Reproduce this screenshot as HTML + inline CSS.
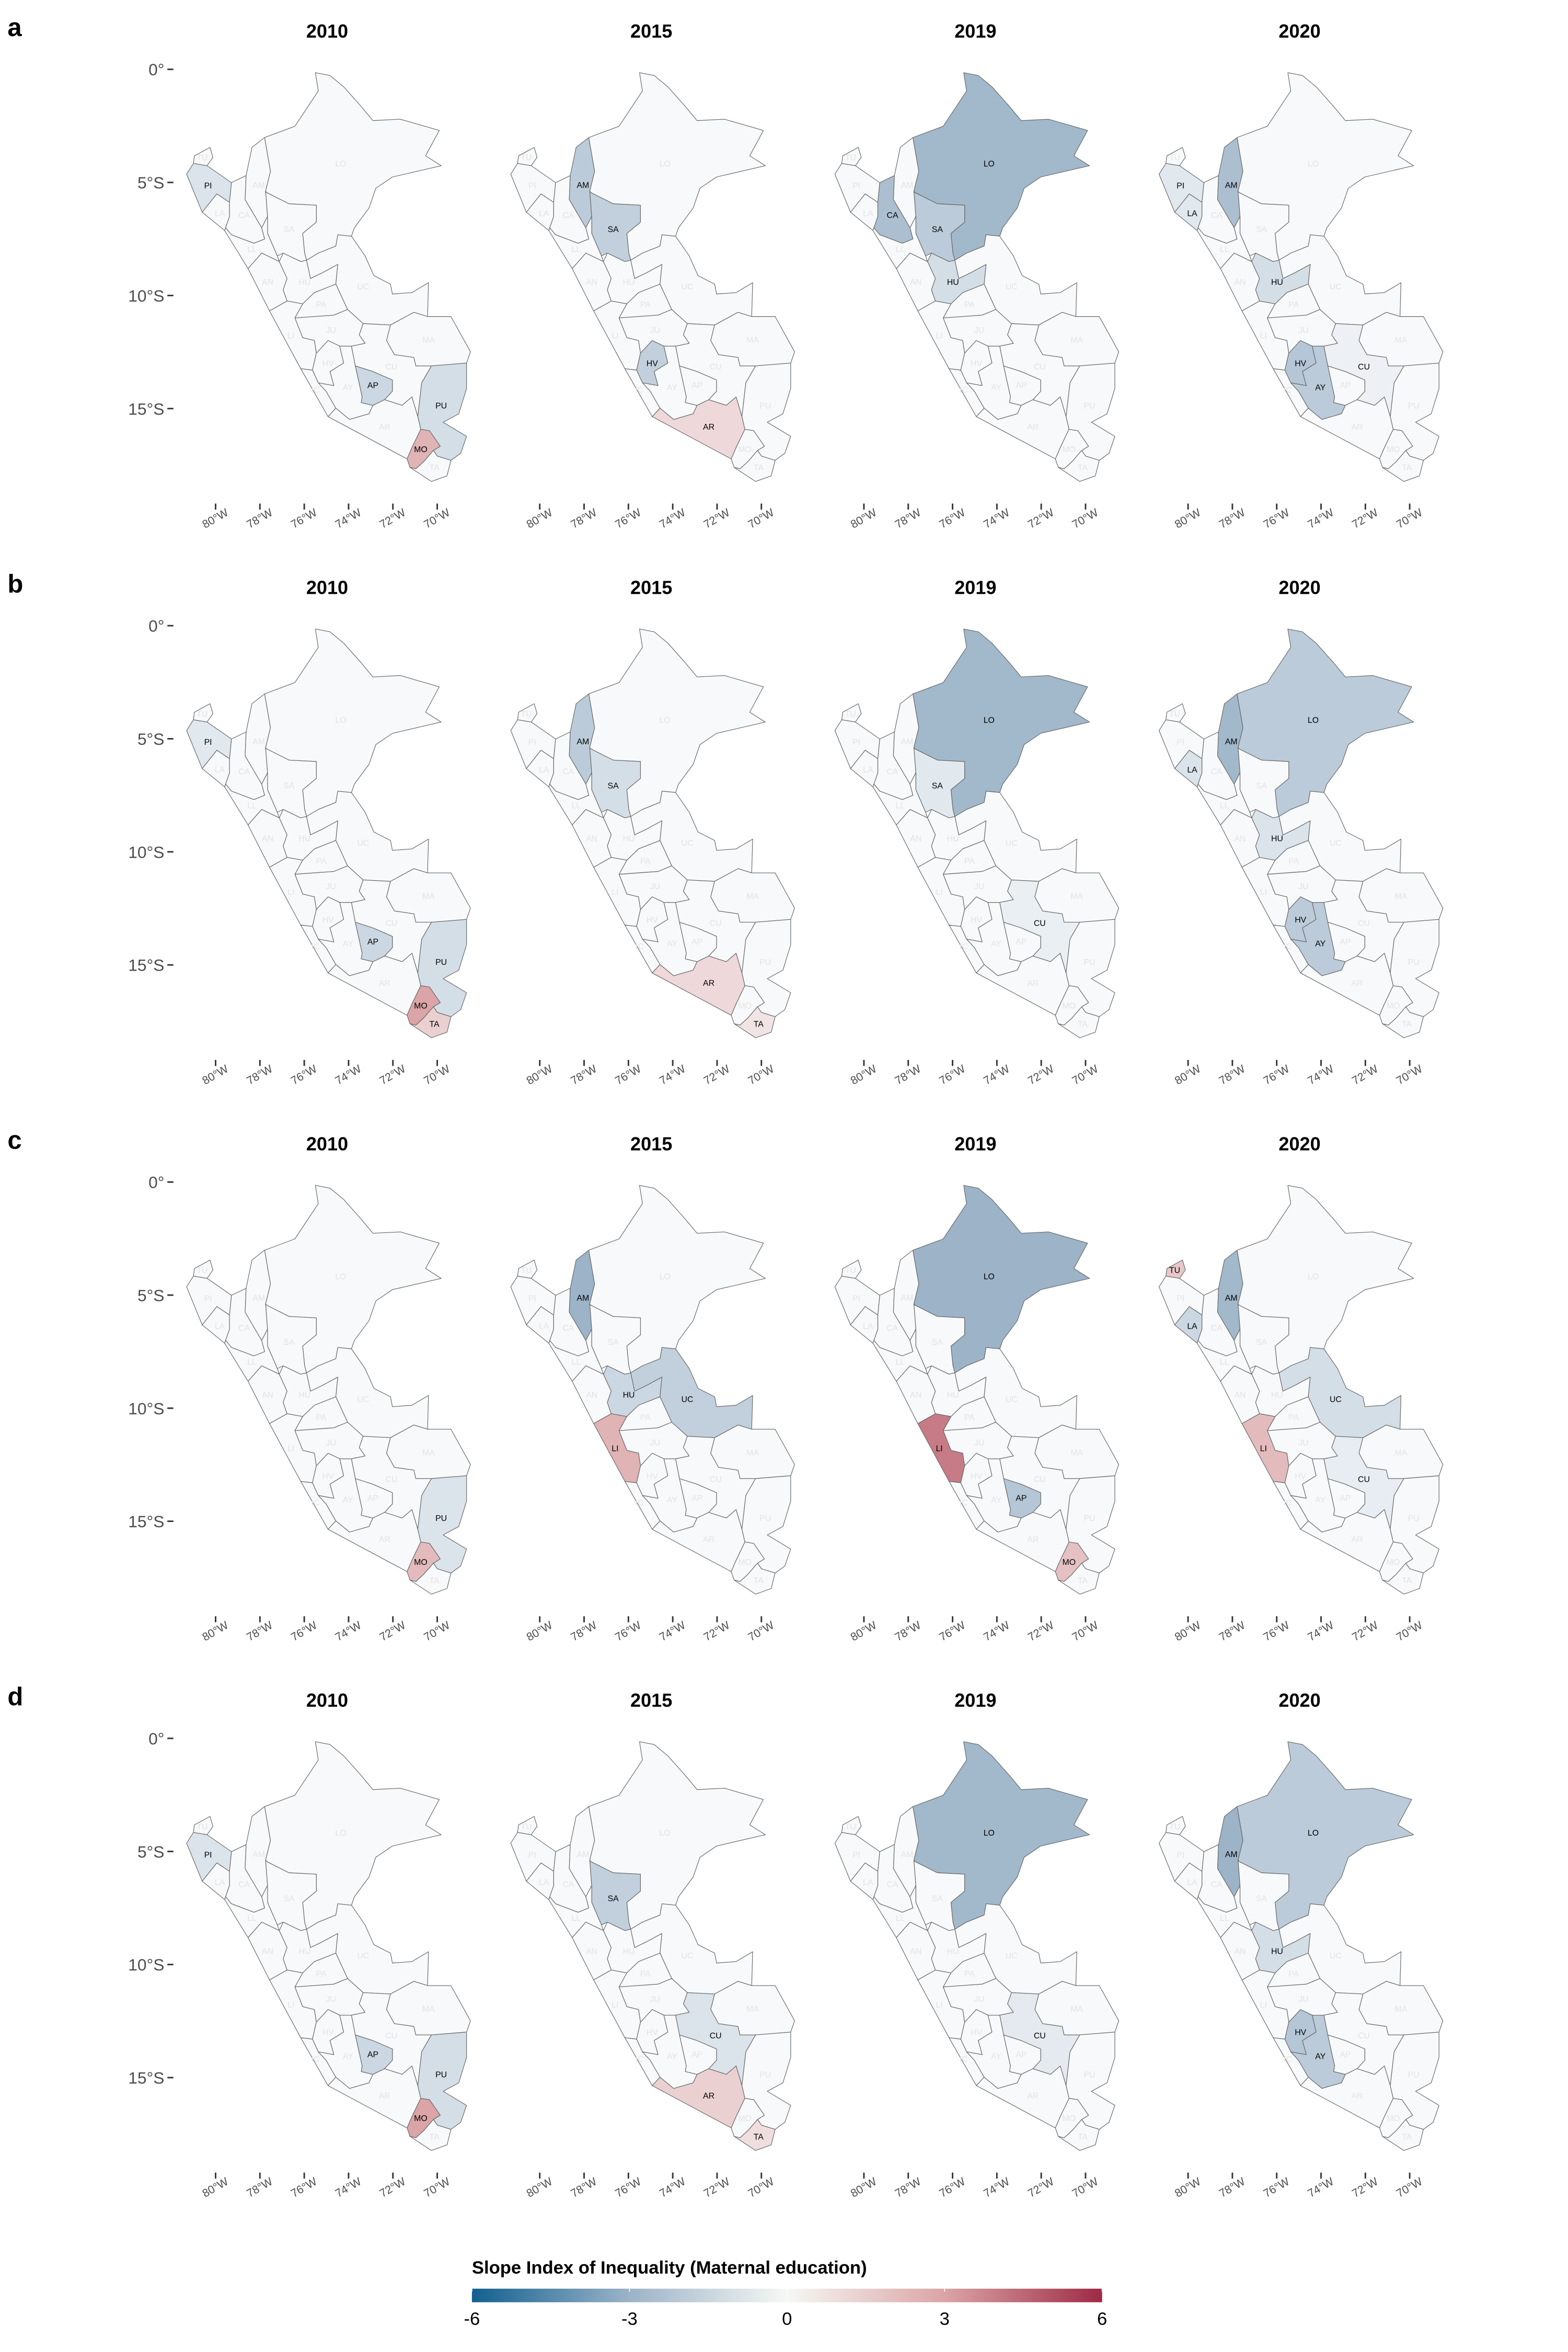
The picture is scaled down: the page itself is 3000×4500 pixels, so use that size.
<!DOCTYPE html>
<html><head><meta charset="utf-8"><style>
html,body{margin:0;padding:0;background:#fff;}
svg{display:block;}
text{font-family:"Liberation Sans",Arial,sans-serif;}
</style></head>
<body>
<svg id="fig" xmlns="http://www.w3.org/2000/svg" width="3000" height="4500" viewBox="0 0 1040 1560">
<defs>
<linearGradient id="lg" x1="0" x2="1" y1="0" y2="0">
<stop offset="0" stop-color="#11608f"/><stop offset="0.25" stop-color="#9cb3c8"/><stop offset="0.5" stop-color="#f6f8f4"/><stop offset="0.75" stop-color="#dba4a6"/><stop offset="1" stop-color="#9e2a45"/>
</linearGradient>
</defs>
<g id="panels"></g>
<g>
<text x="313" y="1508" font-size="12" font-weight="bold" fill="#000">Slope Index of Inequality (Maternal education)</text>
<rect x="313" y="1518" width="418" height="9" fill="url(#lg)"/>
<g id="legticks"></g>
</g>
</svg>
<script>
const rowLetters = ['a','b','c','d'];
const years = ['2010','2015','2019','2020'];
const latTicks = [0,5,10,15];
const latLabels = ['0°','5°S','10°S','15°S'];
const lonTicks = [80,78,76,74,72,70];
const lonLabels = ['80°W','78°W','76°W','74°W','72°W','70°W'];
const legendTicks = [-6,-3,0,3,6];

const valsA2010 = {PI:-1,AP:-1.5,PU:-1.2,MO:2.5};
const valsA2015 = {AM:-2,SA:-1.8,HV:-1.8,AR:1.2};
const valsA2019 = {LO:-2.8,CA:-2.5,SA:-2,HU:-1.2};
const valsA2020 = {PI:-0.8,LA:-0.8,AM:-2.5,HU:-1.2,HV:-2.2,AY:-2,CU:-0.4};
const valsB2010 = {PI:-0.8,AP:-1.5,PU:-1.2,MO:3,TA:1.5};
const valsB2015 = {AM:-2,SA:-1.2,AR:1.2,TA:0.8};
const valsB2019 = {LO:-2.8,SA:-0.8,CU:-0.5};
const valsB2020 = {LO:-2,AM:-2.8,LA:-1,HU:-1,HV:-2,AY:-2};
const valsC2010 = {PU:-1,MO:2.2};
const valsC2015 = {AM:-3,HU:-1.5,UC:-1.8,LI:2.5};
const valsC2019 = {LO:-3,LI:4,AP:-2.2,MO:2};
const valsC2020 = {TU:1.8,AM:-2.8,LA:-1.5,UC:-1.2,LI:2.2,CU:-0.6};
const valsD2010 = {PI:-1,AP:-1.5,PU:-1.2,MO:3};
const valsD2015 = {SA:-1.8,CU:-1,AR:1.5,TA:1};
const valsD2019 = {LO:-2.8,CU:-0.7};
const valsD2020 = {LO:-2,AM:-3,HU:-1.2,HV:-2.2,AY:-2};
const panelVals = [[valsA2010,valsA2015,valsA2019,valsA2020],[valsB2010,valsB2015,valsB2019,valsB2020],[valsC2010,valsC2015,valsC2019,valsC2020],[valsD2010,valsD2015,valsD2019,valsD2020]];
const defaultVal = -0.08;

const regions = {
TU:[[85,345],[165,315],[180,350],[150,380],[80,372]],
PI:[[80,372],[150,380],[275,440],[265,510],[200,480],[125,545],[45,410]],
LA:[[125,545],[200,480],[265,510],[265,560],[245,600],[240,610]],
CA:[[275,440],[350,415],[345,500],[430,600],[445,640],[390,655],[275,625],[245,600],[265,560],[265,510]],
AM:[[350,415],[380,315],[445,280],[475,400],[450,470],[460,560],[430,600],[345,500]],
LO:[[445,280],[600,240],[720,115],[705,50],[780,60],[850,100],[940,170],[1000,220],[1140,215],[1340,255],[1270,345],[1350,380],[1100,420],[1015,460],[980,530],[905,600],[890,630],[820,625],[810,665],[720,690],[660,715],[650,690],[640,620],[710,580],[710,520],[570,515],[455,475],[450,470],[475,400]],
SA:[[450,470],[455,475],[570,515],[710,520],[710,580],[640,620],[650,690],[660,715],[630,720],[540,690],[510,700],[460,620],[460,560]],
LL:[[240,610],[245,600],[275,625],[390,655],[445,640],[430,600],[460,560],[460,620],[510,700],[520,720],[430,690],[360,745]],
AN:[[360,745],[430,690],[520,720],[560,780],[540,820],[560,860],[470,895]],
HU:[[520,720],[540,690],[630,720],[660,715],[680,780],[740,760],[820,730],[810,800],[700,830],[640,870],[560,860],[540,820],[560,780]],
UC:[[660,715],[720,690],[810,665],[820,625],[890,630],[960,700],[1005,770],[1090,800],[1100,835],[1200,830],[1285,795],[1280,915],[1210,900],[1090,945],[950,940],[870,890],[810,800],[820,730],[740,760],[680,780]],
PA:[[640,870],[700,830],[810,800],[870,890],[800,910],[600,920]],
JU:[[600,920],[800,910],[870,890],[950,940],[930,980],[960,1010],[890,1020],[830,1020],[770,1000],[710,1045],[700,1000],[640,990]],
LI:[[470,895],[560,860],[640,870],[600,920],[640,990],[700,1000],[710,1045],[690,1105],[630,1100]],
HV:[[710,1045],[770,1000],[830,1020],[850,1080],[780,1110],[800,1160],[720,1150],[690,1105]],
IC:[[630,1100],[690,1105],[720,1150],[760,1180],[810,1240],[770,1270]],
AY:[[760,1180],[720,1150],[800,1160],[780,1110],[850,1080],[830,1020],[890,1020],[910,1090],[945,1200],[940,1220],[1000,1230],[980,1260],[880,1280],[810,1240]],
AP:[[910,1090],[1000,1110],[1100,1140],[1100,1180],[1060,1210],[1000,1230],[940,1220],[945,1200]],
CU:[[890,1020],[960,1010],[930,980],[950,940],[1090,945],[1070,1000],[1110,1050],[1210,1060],[1220,1090],[1300,1090],[1250,1150],[1230,1270],[1200,1200],[1150,1230],[1060,1210],[1100,1180],[1100,1140],[1000,1110],[910,1090]],
MA:[[1090,945],[1210,900],[1280,915],[1400,915],[1500,1040],[1480,1080],[1300,1090],[1220,1090],[1210,1060],[1110,1050],[1070,1000]],
PU:[[1300,1090],[1480,1080],[1480,1170],[1440,1260],[1360,1290],[1480,1340],[1450,1400],[1400,1425],[1330,1410],[1310,1390],[1345,1375],[1290,1320],[1245,1315],[1230,1270],[1250,1150]],
AR:[[770,1270],[810,1240],[880,1280],[980,1260],[1000,1230],[1060,1210],[1150,1230],[1200,1200],[1230,1270],[1245,1315],[1200,1380],[1175,1420]],
MO:[[1175,1420],[1200,1380],[1245,1315],[1290,1320],[1345,1375],[1310,1390],[1260,1430],[1220,1455],[1190,1450]],
TA:[[1190,1450],[1220,1455],[1260,1430],[1310,1390],[1330,1410],[1400,1425],[1380,1480],[1300,1500]]
};
const labelPos = {TU:[125,350],PI:[155,450],LA:[215,548],CA:[340,555],AM:[415,448],LO:[835,372],SA:[570,605],LL:[380,675],AN:[460,792],HU:[650,792],UC:[950,808],PA:[735,872],LI:[580,982],JU:[785,962],HV:[770,1080],MA:[1285,997],CU:[1095,1092],IC:[705,1175],AY:[872,1165],AP:[1000,1158],PU:[1350,1230],AR:[1060,1305],MO:[1245,1385],TA:[1315,1450]};

const stops = [[-6,[17,96,143]],[-3,[156,179,200]],[0,[250,251,252]],[3,[219,164,166]],[6,[158,42,69]]];
function colorOf(v){
  v=Math.max(-6,Math.min(6,v));
  for(let i=0;i<stops.length-1;i++){
    const a=stops[i],b=stops[i+1];
    if(v>=a[0]&&v<=b[0]){const t=(v-a[0])/(b[0]-a[0]);
      const c=a[1].map((x,k)=>Math.round(x+(b[1][k]-x)*t));return 'rgb('+c.join(',')+')';}
  }
  return '#fff';
}
const NS='http://www.w3.org/2000/svg';
function mk(tag,attrs,parent){const e=document.createElementNS(NS,tag);for(const k in attrs)e.setAttribute(k,attrs[k]);parent.appendChild(e);return e;}
const colW=215,rowH=369;
function px(zx,c){return 117.94+0.1294*zx+c*colW;}
function py(zy,r){return 38.85+0.187*zy+r*rowH;}
function latY(lat,r){return 46+lat*15+r*rowH;}
function lonX(lon,c){return 143+(80-lon)*14.7+c*colW;}

const root=document.getElementById('panels');
for(let r=0;r<4;r++){
  const lt=mk('text',{x:5,y:24+r*rowH,'font-size':17,'font-weight':'bold',fill:'#000'},root);
  
  
  lt.textContent=rowLetters[r];
  for(let c=0;c<4;c++){
    const g=mk('g',{},root);
    
    
    const t=mk('text',{x:217+c*colW,y:25+r*rowH,'font-size':12.5,'font-weight':'bold','text-anchor':'middle',fill:'#000'},g);
    
    
    t.textContent=years[c];
    const vals=panelVals[r][c];
    for(const code in regions){
      const v=(code in vals)?vals[code]:defaultVal;
      const d='M'+regions[code].map(p=>px(p[0],c).toFixed(2)+','+py(p[1],r).toFixed(2)).join('L')+'Z';
      const p=mk('path',{d:d,fill:colorOf(v),stroke:'#666','stroke-width':0.4,'stroke-linejoin':'round'},g);
      
      
    }
    for(const code in labelPos){
      const sig=(code in vals);
      const lp=labelPos[code];
      const tx=mk('text',{x:px(lp[0],c).toFixed(2),y:(py(lp[1],r)+2).toFixed(2),'font-size':5.5,'text-anchor':'middle',fill:sig?'#000':'#e6e2e2'},g);
      
      
      tx.textContent=code;
    }
    if(c===0){
      latTicks.forEach((lat,i)=>{
        const y=latY(lat,r);
        const tk=mk('line',{x1:111,x2:115,y1:y,y2:y,stroke:'#333','stroke-width':1},g);
        
        
        const yl=mk('text',{x:109,y:y+4,'font-size':11,'text-anchor':'end',fill:'#4d4d4d'},g);
        
        
        yl.textContent=latLabels[i];
      });
    }
    lonTicks.forEach((lon,i)=>{
      const x=lonX(lon,c);
      const y0=334+r*rowH;
      const tk=mk('line',{x1:x,x2:x,y1:y0,y2:y0+4,stroke:'#333','stroke-width':1},g);
      
      
      const xl=mk('text',{x:0,y:0,'font-size':7.5,'text-anchor':'middle',fill:'#4d4d4d',transform:'translate('+(x+1)+','+(y0+12)+') rotate(-30)'},g);
      
      
      xl.textContent=lonLabels[i];
    });
  }
}
const lg=document.getElementById('legticks');
legendTicks.forEach(v=>{
  const x=313+(v+6)/12*418;
  const tl=mk('line',{x1:x,x2:x,y1:1518,y2:1520,stroke:'#fff','stroke-width':0.6},lg);
  
  
  const tt=mk('text',{x:x,y:1542,'font-size':12,'text-anchor':'middle',fill:'#000'},lg);
  
  
  tt.textContent=String(v);
});
</script>
</body></html>
